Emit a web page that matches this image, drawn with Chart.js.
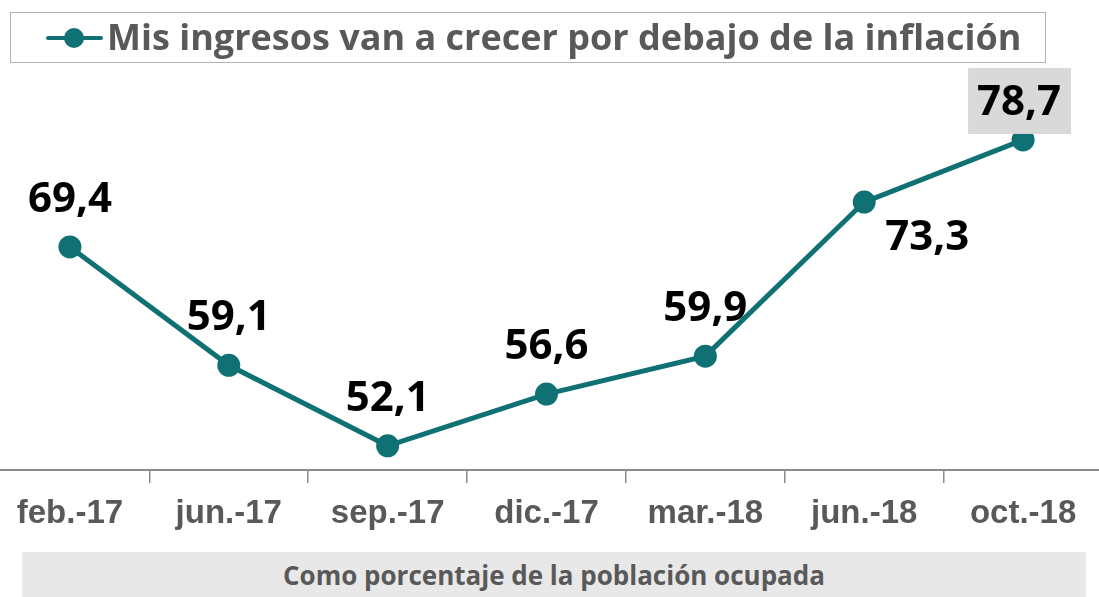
<!DOCTYPE html>
<html>
<head>
<meta charset="utf-8">
<script src="https://cdn.jsdelivr.net/npm/chart.js@4"></script>
<style>
  html,body{margin:0;padding:0;background:#fff;width:1099px;height:597px;overflow:hidden;position:relative;font-family:"Open Sans",sans-serif;}
  #chart{position:absolute;left:-21px;top:0;}
  #legend{position:absolute;left:10px;top:12px;width:1034px;height:49px;border:1.5px solid #b3b3b3;box-sizing:content-box;}
  #legend .line{position:absolute;left:35px;top:23px;width:57px;height:4px;background:#0f7173;border-radius:2px;}
  #legend .dot{position:absolute;left:53px;top:15px;width:20px;height:20px;border-radius:50%;background:#0f7173;}
  #legend .txt{position:absolute;left:96px;top:-1px;height:49px;line-height:49px;font-size:36px;font-weight:700;color:#595959;white-space:nowrap;}
  #caption{position:absolute;left:22px;top:552px;width:1064px;height:45px;background:#e8e8e8;text-align:center;line-height:46px;font-size:26px;font-weight:700;color:#595959;}
</style>
</head>
<body>
<canvas id="chart" width="1135" height="597"></canvas>
<div id="legend"><div class="line"></div><div class="dot"></div><div class="txt" id="legendText"></div></div>
<div id="caption"></div>
<script>
const categories = ["feb.-17","jun.-17","sep.-17","dic.-17","mar.-18","jun.-18","oct.-18"];
const values = [69.4, 59.1, 52.1, 56.6, 59.9, 73.3, 78.7];
const seriesName = "Mis ingresos van a crecer por debajo de la inflación";
const captionText = "Como porcentaje de la población ocupada";

document.getElementById('legendText').textContent = seriesName;
document.getElementById('caption').textContent = captionText;

const teal = '#0f7173';
const labelPlacement = ['above','above','above','above','above','belowRight','boxed'];

const dataLabels = {
  id: 'dataLabels',
  afterDatasetsDraw(chart) {
    const ctx = chart.ctx;
    const meta = chart.getDatasetMeta(0);
    ctx.save();
    ctx.font = '700 42px "Open Sans", sans-serif';
    ctx.textAlign = 'center';
    ctx.textBaseline = 'middle';
    meta.data.forEach((pt, i) => {
      const txt = values[i].toFixed(1).replace('.', ',');
      let x = pt.x, y = pt.y - 48;
      const p = labelPlacement[i];
      if (p === 'belowRight') { x = pt.x + 63; y = pt.y + 35; }
      if (p === 'boxed') {
        x = pt.x - 4; y = pt.y - 38;
        ctx.fillStyle = '#d9d9d9';
        ctx.fillRect(x - 51, y - 34, 103, 66);
      }
      ctx.fillStyle = '#000';
      ctx.fillText(txt, x, y + 1);
    });
    ctx.restore();
  }
};

new Chart(document.getElementById('chart'), {
  type: 'line',
  data: {
    labels: categories,
    datasets: [{
      label: seriesName,
      data: values,
      borderColor: teal,
      backgroundColor: teal,
      borderWidth: 5,
      pointRadius: 11.5,
      pointHoverRadius: 11.5,
      pointBackgroundColor: teal,
      pointBorderWidth: 0,
      tension: 0,
      clip: false
    }]
  },
  options: {
    responsive: false,
    devicePixelRatio: 1,
    animation: false,
    events: [],
    layout: { padding: { top: 125, left: 0, right: 0, bottom: 0 } },
    plugins: { legend: { display: false }, tooltip: { enabled: false }, title: { display: false } },
    scales: {
      x: {
        offset: true,
        grid: { offset: true, drawOnChartArea: false, drawTicks: true, tickLength: 13, color: '#8c8c8c', lineWidth: 1.5 },
        border: { display: true, color: '#8c8c8c', width: 2 },
        ticks: { color: '#595959', font: { family: '"Liberation Sans Narrow", "Arial Narrow", "Liberation Sans", sans-serif', size: 33, weight: '700' }, padding: 11, maxRotation: 0, autoSkip: false },
        afterFit(scale) { scale.height = 127; }
      },
      y: { display: false, min: 50, max: 80 }
    }
  },
  plugins: [dataLabels]
});
</script>
</body>
</html>
